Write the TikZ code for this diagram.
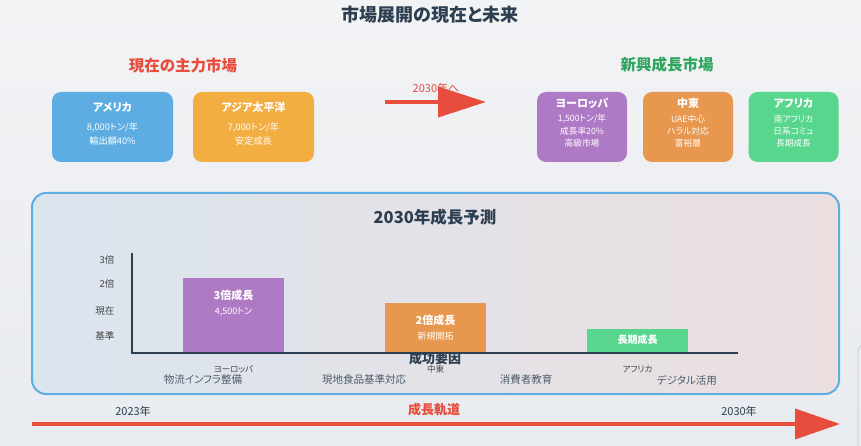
\documentclass[tikz,border=0pt]{standalone}
\usepackage{fontspec}
\setmainfont{Noto Sans CJK JP}[RawFeature={+palt}]
\usetikzlibrary{positioning,arrows.meta,shapes}
\definecolor{cDark}{HTML}{2C3E50}
\definecolor{cRed}{HTML}{E74C3C}
\definecolor{cGreen}{HTML}{2FA55E}
\definecolor{cBlue}{HTML}{5DADE2}
\definecolor{cYel}{HTML}{F3AE42}
\definecolor{cPur}{HTML}{AF7AC5}
\definecolor{cOra}{HTML}{E8984E}
\definecolor{cGrn}{HTML}{58D68D}
\definecolor{cBgT}{HTML}{F2F3F5}
\definecolor{cBgB}{HTML}{E8EBEF}
\definecolor{cPanL}{HTML}{DBE5EE}
\definecolor{cPanR}{HTML}{EBDFE0}
\definecolor{cTxt}{HTML}{474747}

\begin{document}
\begin{tikzpicture}[x=1pt, y=-1pt, font=\fontsize{9}{11}\selectfont,
    mkt/.style={rounded corners=9pt, inner sep=0pt, minimum height=70pt},
    mtitle/.style={text=white, font=\fontsize{11}{13}\selectfont\bfseries},
    mline/.style={text=white, font=\fontsize{8.7}{10}\selectfont},
    bar/.style={anchor=south, inner sep=0pt, minimum width=101pt},
    head/.style={font=\fontsize{15.5}{17}\selectfont\bfseries},
    small/.style={text=cTxt, font=\fontsize{9.5}{11}\selectfont},
    bigarrow/.style={cRed, line width=#1}]
        \useasboundingbox (0,0) rectangle (861,446);
        \fill[top color=cBgT, bottom color=cBgB] (0,0) rectangle (861,446);
        \draw[gray!35, line width=1pt, rounded corners=5pt] (861,345) -- (858,345) -- (858,446);
        \node[font=\fontsize{18}{20}\selectfont\bfseries, text=cDark] (title) at (430,15) {市場展開の現在と未来};
        \node[head, text=cRed] (nowhead) at (183,66) {現在の主力市場};
        \node[head, text=cGreen] (newhead) at (667,65) {新興成長市場};
        % current markets
        \foreach \x/\c/\name/\la/\lb [count=\i] in {112.5/cBlue/アメリカ/{8,000トン/年}/輸出額40\%, 253.5/cYel/アジア太平洋/{7,000トン/年}/安定成長}{
            \node[mkt, fill=\c, minimum width=121pt] (now\i) at (\x,127) {};
            \node[mtitle] (now\i-t) at (\x,107) {\name};
            \node[mline, font=\fontsize{9.2}{11}\selectfont] (now\i-a) at (\x,127) {\la};
            \node[mline, font=\fontsize{9.2}{11}\selectfont] (now\i-b) at (\x,141) {\lb};
        }
        % emerging markets
        \foreach \x/\c/\name/\la/\lb/\lc [count=\i] in {582/cPur/ヨーロッパ/{1,500トン/年}/成長率20\%/高級市場, 688/cOra/中東/UAE中心/ハラル対応/富裕層, 793.5/cGrn/アフリカ/南アフリカ/日系コミュ/長期成長}{
            \node[mkt, fill=\c, minimum width=90pt] (new\i) at (\x,127) {};
            \node[mtitle] (new\i-t) at (\x,103) {\name};
            \node[mline] (new\i-a) at (\x,119) {\la};
            \node[mline] (new\i-b) at (\x,131) {\lb};
            \node[mline] (new\i-c) at (\x,143) {\lc};
        }
        \coordinate (goS) at (385,102);
        \coordinate (goE) at (486,102);
        \node[text=cRed, font=\fontsize{11}{13}\selectfont] (golabel) at (436,88) {2030年へ};
        \draw[bigarrow=4pt, -{Triangle[length=48pt,width=30pt]}] (goS) -- (goE);
        % forecast panel
        \node[draw=cBlue, line width=2pt, rounded corners=14pt, left color=cPanL, right color=cPanR,
            minimum width=807pt, minimum height=201pt] (panel) at (435.5,293.5) {};
        \node[text=cDark, font=\fontsize{16.5}{18}\selectfont\bfseries] (ptitle) at (435,217) {2030年成長予測};
        \foreach \y/\name [count=\i] in {260/3倍, 284/2倍, 311/現在, 336/基準}{
            \node[small, anchor=east] (ylab\i) at (118,\y) {\name};}
        \foreach \x/\h/\c/\name/\la/\lb/\ya/\yb/\fs [count=\i] in {233.5/75/cPur/ヨーロッパ/3倍成長/{4,500トン}/295/312/11, 435.5/50/cOra/中東/2倍成長/新規開拓/320/336/11, 637.5/24/cGrn/アフリカ/長期成長//340/340/10}{
            \node[bar, fill=\c, minimum height=\h pt] (bar\i) at (\x,353) {};
            \node[text=white, font=\fontsize{\fs}{13}\selectfont\bfseries] (bar\i-t) at (\x,\ya) {\la};
            \node[text=white, font=\fontsize{9}{11}\selectfont] (bar\i-s) at (\x,\yb) {\lb};
            \node[small, font=\fontsize{8.5}{10}\selectfont] (cat\i) at (\x,369) {\name};
        }
        \draw[cDark, line width=2pt] (132,253) -- (132,353) -- (738,353);
        \node[text=cDark, font=\fontsize{13}{15}\selectfont\bfseries] (keys) at (435,359) {成功要因};
        \foreach \x/\name [count=\i] in {203/物流インフラ整備, 364/現地食品基準対応, 526/消費者教育, 687/デジタル活用}{
            \node[text=cDark!85, font=\fontsize{10.5}{12}\selectfont] (key\i) at (\x,380) {\name};}
        % growth path
        \node[text=cDark, font=\fontsize{11}{13}\selectfont] (from) at (133,411) {2023年};
        \node[text=cDark, font=\fontsize{11}{13}\selectfont] (to) at (739,411) {2030年};
        \node[text=cRed, font=\fontsize{13}{15}\selectfont\bfseries] (track) at (434,410) {成長軌道};
        \coordinate (pathS) at (32,424);
        \coordinate (pathE) at (840,424);
        \draw[bigarrow=3.5pt, -{Triangle[length=45pt,width=30pt]}] (pathS) -- (pathE);
    \end{tikzpicture}
\end{document}
